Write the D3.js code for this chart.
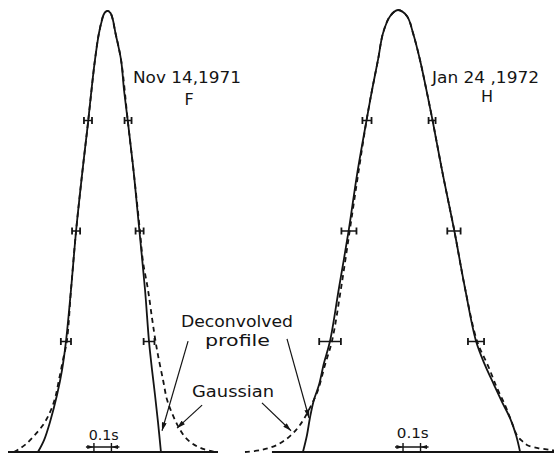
<!DOCTYPE html>
<html><head><meta charset="utf-8">
<script src="https://cdn.jsdelivr.net/npm/d3@7"></script>
<style>html,body{margin:0;padding:0;background:#fff}svg{display:block}</style>
</head><body><svg id="c" width="554" height="457"></svg>
<script>
// ---- data: time (s) and normalised intensity ----
const levels = [0.25, 0.5, 0.75];

const novSolid = [[0.171,0],[0.206,0.027],[0.24,0.068],[0.28,0.129],[0.309,0.186],[0.331,0.249],[0.36,0.367],[0.389,0.5],[0.423,0.627],[0.457,0.744],[0.474,0.808],[0.497,0.887],[0.52,0.948],[0.537,0.977],[0.551,0.993],[0.569,0.998],[0.586,0.993],[0.6,0.977],[0.614,0.948],[0.646,0.887],[0.663,0.819],[0.686,0.744],[0.72,0.627],[0.751,0.5],[0.783,0.367],[0.806,0.249],[0.823,0.186],[0.84,0.129],[0.857,0.068],[0.874,0]];
const novGauss = [[0.034,0],[0.057,0.005],[0.097,0.016],[0.143,0.034],[0.2,0.061],[0.24,0.09],[0.269,0.122],[0.291,0.163],[0.314,0.208],[0.337,0.253],[0.36,0.367],[0.389,0.5],[0.423,0.627],[0.457,0.744],[0.497,0.887],[0.52,0.948],[0.551,0.993],[0.569,0.998],[0.586,0.993],[0.614,0.948],[0.646,0.887],[0.686,0.744],[0.72,0.627],[0.754,0.5],[0.771,0.432],[0.8,0.367],[0.823,0.303],[0.84,0.258],[0.857,0.219],[0.886,0.163],[0.909,0.118],[0.937,0.088],[0.971,0.059],[1.011,0.034],[1.057,0.018],[1.114,0.007],[1.183,0]];
const novErrLeftT = [0.331, 0.389, 0.457];
const novErrRightT = [0.806, 0.752, 0.686];
const novErrLeftHalf = [0.029, 0.023, 0.023];
const novErrRightHalf = [0.031, 0.023, 0.02];

const janSolid = [[0.331,0],[0.354,0.038],[0.371,0.077],[0.394,0.118],[0.423,0.152],[0.451,0.201],[0.486,0.251],[0.537,0.371],[0.594,0.505],[0.64,0.627],[0.697,0.756],[0.726,0.819],[0.76,0.887],[0.789,0.948],[0.829,0.986],[0.874,1.0],[0.926,0.986],[0.96,0.948],[1.0,0.887],[1.034,0.824],[1.069,0.756],[1.131,0.627],[1.194,0.505],[1.257,0.371],[1.32,0.251],[1.371,0.197],[1.423,0.152],[1.469,0.113],[1.514,0.077],[1.549,0.038],[1.571,0.002]];
const janGauss = [[0,0],[0.097,0.005],[0.183,0.016],[0.257,0.036],[0.314,0.061],[0.371,0.1],[0.417,0.14],[0.457,0.197],[0.497,0.251],[0.549,0.371],[0.6,0.505],[0.646,0.627],[0.697,0.756],[0.726,0.819],[0.76,0.887],[0.789,0.948],[0.829,0.986],[0.874,1.0],[0.926,0.986],[0.96,0.948],[1.0,0.887],[1.034,0.824],[1.069,0.756],[1.131,0.627],[1.194,0.505],[1.257,0.371],[1.326,0.251],[1.389,0.195],[1.44,0.145],[1.486,0.106],[1.52,0.072],[1.554,0.038],[1.583,0.025],[1.611,0.016],[1.674,0.009],[1.743,0.005],[1.789,0.002]];
const janErrLeftT = [0.486, 0.594, 0.697];
const janErrRightT = [1.32, 1.194, 1.069];
const janErrLeftHalf = [0.062, 0.043, 0.026];
const janErrRightHalf = [0.046, 0.038, 0.02];

const novBaseline = [0, 1.2];
const janBaseline = [0.154, 1.8];
const novScaleBar = [0.491, 0.591];
const janScaleBar = [0.903, 1.003];

const novTitle = ["Nov 14,1971", "F"];
const janTitle = ["Jan 24 ,1972", "H"];
const labels = ["Deconvolved", "profile", "Gaussian", "0.1s"];

// annotation arrows: [panel, tailT, tailI, tipT, tipI]
const arrows = [
  ["nov", 1.029, 0.251, 0.880, 0.048],
  ["jan", 0.240, 0.256, 0.366, 0.077],
  ["nov", 1.109, 0.106, 0.966, 0.054],
  ["jan", 0.097, 0.111, 0.263, 0.048]
];

// ---- drawing ----
const ink = "#141414";
const svg = d3.select("#c");
svg.append("rect").attr("width",554).attr("height",457).attr("fill","#fff");

const xN = d3.scaleLinear().domain([0, 1.2]).range([8, 218]);
const xJ = d3.scaleLinear().domain([0, 1.8]).range([245, 560]);
const y = d3.scaleLinear().domain([0, 1]).range([452, 10]);
const xs = {nov: xN, jan: xJ};

const defs = svg.append("defs");
defs.append("marker").attr("id","ah").attr("viewBox","0 0 10 6")
  .attr("refX",10).attr("refY",3).attr("markerWidth",10).attr("markerHeight",5)
  .attr("markerUnits","userSpaceOnUse").attr("orient","auto")
  .append("path").attr("d","M0,0L10,3L0,6Z").attr("fill",ink);
defs.append("marker").attr("id","ahs").attr("viewBox","0 0 10 6")
  .attr("refX",10).attr("refY",3).attr("markerWidth",7).attr("markerHeight",4)
  .attr("markerUnits","userSpaceOnUse").attr("orient","auto")
  .append("path").attr("d","M0,0L10,3L0,6Z").attr("fill",ink);

function panel(x, solid, gauss, base, eLT, eRT, eLH, eRH, bar) {
  const g = svg.append("g");
  const line = d3.line().x(d => x(d[0])).y(d => y(d[1])).curve(d3.curveCatmullRom.alpha(0.5));
  g.append("line").attr("x1", x(base[0])).attr("x2", x(base[1]))
    .attr("y1", y(0)).attr("y2", y(0)).attr("stroke", ink).attr("stroke-width", 2);
  g.append("path").attr("d", line(gauss)).attr("fill","none").attr("stroke",ink)
    .attr("stroke-width",1.8).attr("stroke-dasharray","5,4");
  g.append("path").attr("d", line(solid)).attr("fill","none").attr("stroke",ink)
    .attr("stroke-width",1.8);
  const errs = [];
  levels.forEach((lv, i) => {
    errs.push({t: eLT[i], h: eLH[i], v: lv});
    errs.push({t: eRT[i], h: eRH[i], v: lv});
  });
  errs.forEach(e => {
    const yy = y(e.v), x0 = x(e.t - e.h), x1 = x(e.t + e.h);
    g.append("line").attr("x1",x0).attr("x2",x1).attr("y1",yy).attr("y2",yy)
      .attr("stroke",ink).attr("stroke-width",1.5);
    [x0, x1].forEach(xx => g.append("line").attr("x1",xx).attr("x2",xx)
      .attr("y1",yy-3.5).attr("y2",yy+3.5).attr("stroke",ink).attr("stroke-width",1.8));
  });
  // scale bar
  const by = y(0) - 5, b0 = x(bar[0]), b1 = x(bar[1]);
  g.append("line").attr("x1",b0).attr("x2",b1).attr("y1",by).attr("y2",by)
    .attr("stroke",ink).attr("stroke-width",1.5);
  g.append("line").attr("x1",b0-8).attr("x2",b0).attr("y1",by).attr("y2",by)
    .attr("stroke",ink).attr("stroke-width",1.5).attr("marker-end","url(#ahs)");
  g.append("line").attr("x1",b1+8).attr("x2",b1).attr("y1",by).attr("y2",by)
    .attr("stroke",ink).attr("stroke-width",1.5).attr("marker-end","url(#ahs)");
  [b0, b1].forEach(xx => g.append("line").attr("x1",xx).attr("x2",xx)
    .attr("y1",by-4).attr("y2",by+4).attr("stroke",ink).attr("stroke-width",1.4));
  return {b0, b1};
}

const pN = panel(xN, novSolid, novGauss, novBaseline, novErrLeftT, novErrRightT, novErrLeftHalf, novErrRightHalf, novScaleBar);
const pJ = panel(xJ, janSolid, janGauss, janBaseline, janErrLeftT, janErrRightT, janErrLeftHalf, janErrRightHalf, janScaleBar);

arrows.forEach(a => {
  const x = xs[a[0]];
  svg.append("line").attr("x1", x(a[1])).attr("y1", y(a[2]))
    .attr("x2", x(a[3])).attr("y2", y(a[4]))
    .attr("stroke", ink).attr("stroke-width", 1.2).attr("marker-end", "url(#ah)");
});

const font = "'DejaVu Sans', sans-serif";
function txt(s, xx, yy, size, len, anchor) {
  const t = svg.append("text").attr("x", xx).attr("y", yy).text(s)
    .attr("font-family", font).attr("font-size", size).attr("fill", ink)
    .attr("text-anchor", anchor || "start");
  if (len) t.attr("textLength", len).attr("lengthAdjust", "spacingAndGlyphs");
  return t;
}
txt(novTitle[0], 133, 83, 16, 108);
txt(novTitle[1], 189, 105, 16, null, "middle");
txt(janTitle[0], 432, 83, 16, 107);
txt(janTitle[1], 487, 102, 16, null, "middle");
txt(labels[0], 181, 327, 15, 112);
txt(labels[1], 205, 346, 15, 65);
txt(labels[2], 192, 397, 16, 82);
txt(labels[3], (pN.b0 + pN.b1) / 2 + 1, 440, 14, 30, "middle");
txt(labels[3], (pJ.b0 + pJ.b1) / 2 + 1, 438, 14, 32, "middle");
</script></body></html>
